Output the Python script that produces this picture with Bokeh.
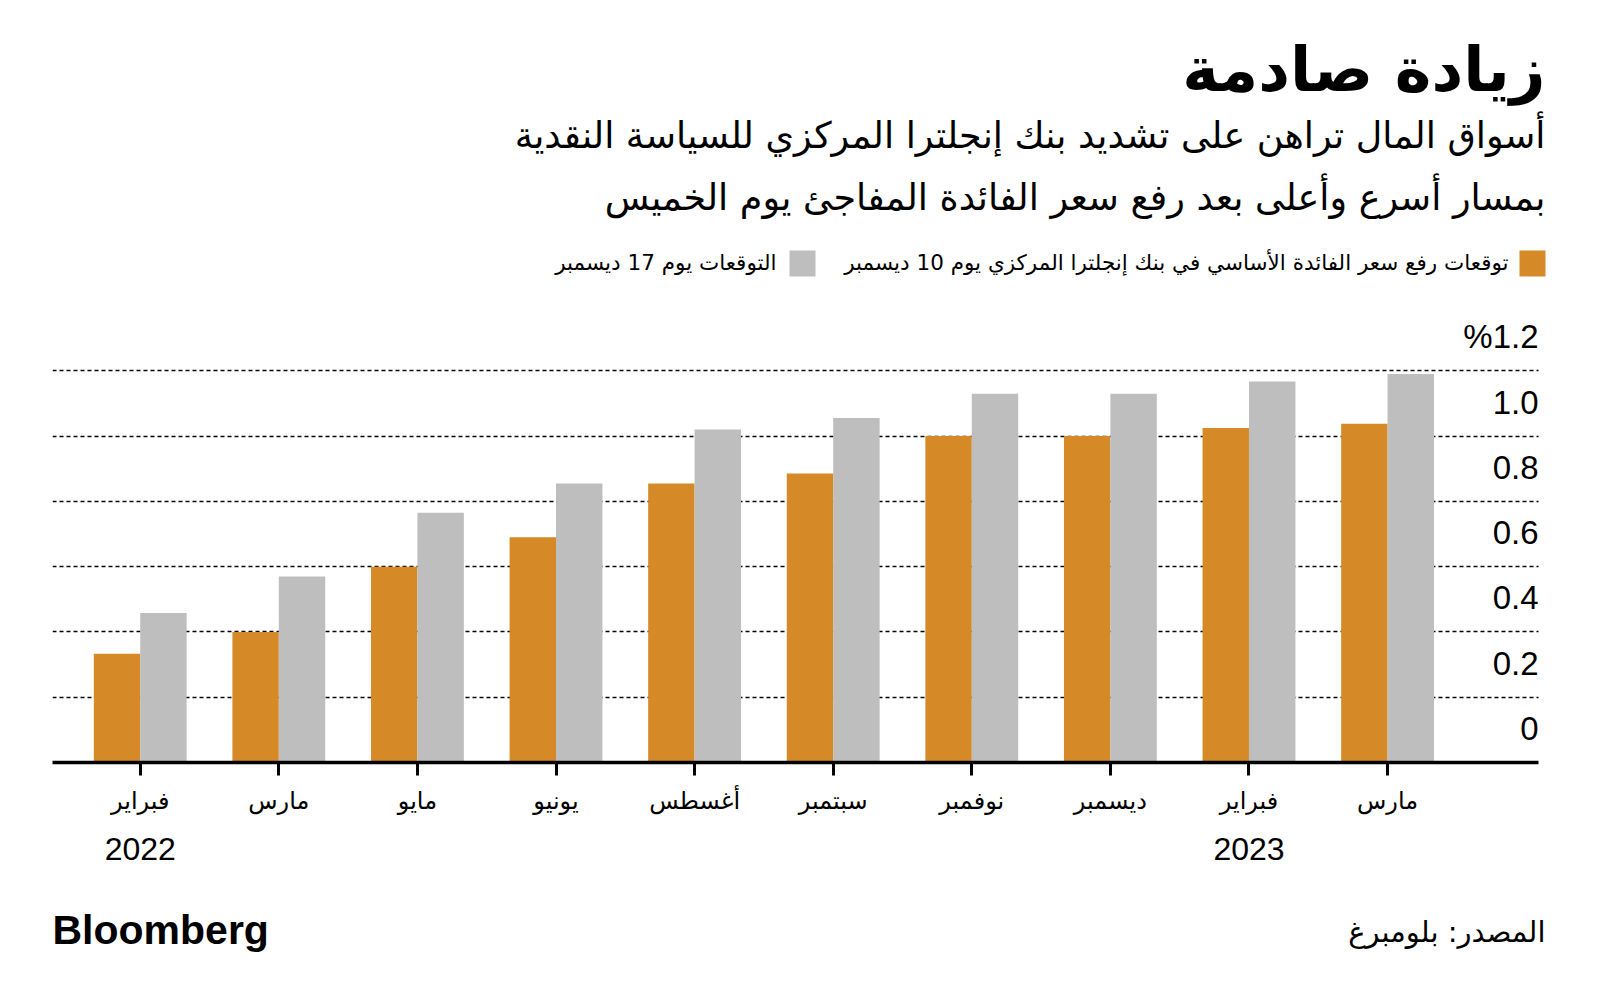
from bokeh.plotting import figure
from bokeh.layouts import column
from bokeh.models import Range1d, FixedTicker, ColumnDataSource
from bokeh.transform import dodge
from bokeh.core.properties import value
from bokeh.embed import file_html
from bokeh.resources import INLINE

# ---- data ----
months = ["فبراير", "مارس", "مايو", "يونيو", "أغسطس", "سبتمبر", "نوفمبر", "ديسمبر", "فبراير", "مارس"]
years = ["2022", "2023"]
year_positions = [0, 8]
dec10 = [0.333, 0.40, 0.60, 0.69, 0.855, 0.885, 1.0, 1.0, 1.025, 1.038]
dec17 = [0.458, 0.57, 0.765, 0.855, 1.02, 1.055, 1.13, 1.13, 1.167, 1.19]
y_ticks = [0, 0.2, 0.4, 0.6, 0.8, 1.0, 1.2]
y_tick_labels = ["0", "0.2", "0.4", "0.6", "0.8", "1.0", "%1.2"]

title = "زيادة صادمة"
subtitle_lines = [
    "أسواق المال تراهن على تشديد بنك إنجلترا المركزي للسياسة النقدية",
    "بمسار أسرع وأعلى بعد رفع سعر الفائدة المفاجئ يوم الخميس",
]
legend_labels = [
    "توقعات رفع سعر الفائدة الأساسي في بنك إنجلترا المركزي يوم 10 ديسمبر",
    "التوقعات يوم 17 ديسمبر",
]
source_note = "المصدر: بلومبرغ"
brand = "Bloomberg"

ORANGE = "#D68A27"
GRAY = "#BEBEBE"
AR_FONT = value("DejaVu Sans")
NUM_FONT = value("Liberation Sans")

W = 1584
HEADER_H = 300
CHART_TOP, CHART_BOTTOM, TOTAL_H = 300, 822, 991
FRAME_L, PLOT_R, FRAME_R = 52, 1538, 1548
AXIS_Y = 762
X_START, X_DATA_END = -0.633, 10.089
PPU = (PLOT_R - FRAME_L) / (X_DATA_END - X_START)
X_END = X_DATA_END + (FRAME_R - PLOT_R) / PPU
Y_END = 1.4
RIGHT_EDGE = 1545


def blank(fig):
    fig.outline_line_color = None
    fig.background_fill_color = "white"
    fig.border_fill_color = "white"
    fig.xgrid.visible = False
    fig.ygrid.visible = False
    return fig


def fx(px):
    return X_START + (px - FRAME_L) / PPU


# ---------------- header (data units = page pixels) ----------------
hdr = blank(figure(width=W, height=HEADER_H, output_backend="svg", toolbar_location=None,
                   x_range=Range1d(FRAME_L, FRAME_R), y_range=Range1d(HEADER_H, 0),
                   x_axis_location=None, y_axis_location=None,
                   min_border_left=FRAME_L, min_border_right=W - FRAME_R,
                   min_border_top=0, min_border_bottom=0))
hdr.text(x=[RIGHT_EDGE], y=[69], text=[title], text_align="right", text_baseline="middle",
         text_font=AR_FONT, text_font_style="bold", text_font_size="62px", text_color="black")
hdr.text(x=[RIGHT_EDGE, RIGHT_EDGE], y=[135, 197], text=subtitle_lines, text_align="right",
         text_baseline="middle", text_font=AR_FONT, text_font_size="36.5px", text_color="black")
hdr.quad(left=[1519, 789], right=[1545, 815], top=[250, 250], bottom=[276, 276],
         fill_color=[ORANGE, GRAY], line_color=None)
hdr.text(x=[1508, 776], y=[262, 262], text=legend_labels, text_align="right",
         text_baseline="middle", text_font=AR_FONT, text_font_size="21.5px", text_color="black")

# ---------------- chart ----------------
ch_h = CHART_BOTTOM - CHART_TOP
p = blank(figure(width=W, height=ch_h, output_backend="svg", toolbar_location=None,
                 x_range=Range1d(X_START, X_END), y_range=Range1d(0, Y_END),
                 y_axis_location=None,
                 min_border_left=FRAME_L, min_border_right=W - FRAME_R,
                 min_border_top=int(round(AXIS_Y - CHART_TOP - Y_END * 326.5)),
                 min_border_bottom=CHART_BOTTOM - AXIS_Y))
g = p.ygrid[0]
g.visible = True
g.ticker = FixedTicker(ticks=y_ticks[1:])
g.grid_line_color = "black"
g.grid_line_dash = "4 3"
g.grid_line_width = 1.5
if "cross_bounds" in g.properties():
    g.cross_bounds = (X_START, X_DATA_END)

x = list(range(len(months)))
src = ColumnDataSource(dict(x=x, dec10=dec10, dec17=dec17))
BW = 0.335
p.vbar(x=dodge("x", -BW / 2, range=p.x_range), top="dec10", width=BW, source=src,
       fill_color=ORANGE, line_color=None)
p.vbar(x=dodge("x", BW / 2, range=p.x_range), top="dec17", width=BW, source=src,
       fill_color=GRAY, line_color=None)

xa = p.xaxis[0]
xa.bounds = (X_START, X_DATA_END)
xa.ticker = FixedTicker(ticks=x)
xa.major_label_overrides = {i: m for i, m in enumerate(months)}
xa.axis_line_color = "black"
xa.axis_line_width = 3.5
xa.major_tick_out = 13
xa.major_tick_in = 0
xa.major_tick_line_width = 3
xa.major_tick_line_color = "black"
xa.minor_tick_out = 0
xa.minor_tick_in = 0
xa.major_label_text_font = "DejaVu Sans"
xa.major_label_text_font_size = "24px"
xa.major_label_text_color = "black"
xa.major_label_standoff = 11

ysrc = ColumnDataSource(dict(x=[X_DATA_END] * len(y_ticks), y=y_ticks, t=y_tick_labels))
p.text(x="x", y="y", text="t", source=ysrc, text_align="right", text_baseline="middle",
       y_offset=-34, text_font=NUM_FONT, text_font_size="33px", text_color="black")

# ---------------- footer ----------------
ft_h = TOTAL_H - CHART_BOTTOM
ft = blank(figure(width=W, height=ft_h, output_backend="svg", toolbar_location=None,
                  x_range=Range1d(X_START, X_END), y_range=Range1d(TOTAL_H, CHART_BOTTOM),
                  x_axis_location=None, y_axis_location=None,
                  min_border_left=FRAME_L, min_border_right=W - FRAME_R,
                  min_border_top=0, min_border_bottom=0))
ft.text(x=year_positions, y=[848, 848], text=years, text_align="center",
        text_baseline="middle", text_font=NUM_FONT, text_font_size="32px", text_color="black")
ft.text(x=[fx(52)], y=[929], text=[brand], text_align="left", text_baseline="middle",
        text_font=NUM_FONT, text_font_style="bold", text_font_size="41px", text_color="black")
ft.text(x=[fx(RIGHT_EDGE)], y=[931], text=[source_note], text_align="right", text_baseline="middle",
        text_font=AR_FONT, text_font_size="29px", text_color="black")

layout = column(hdr, p, ft, spacing=0)
open("out.html", "w").write(file_html(layout, INLINE))
